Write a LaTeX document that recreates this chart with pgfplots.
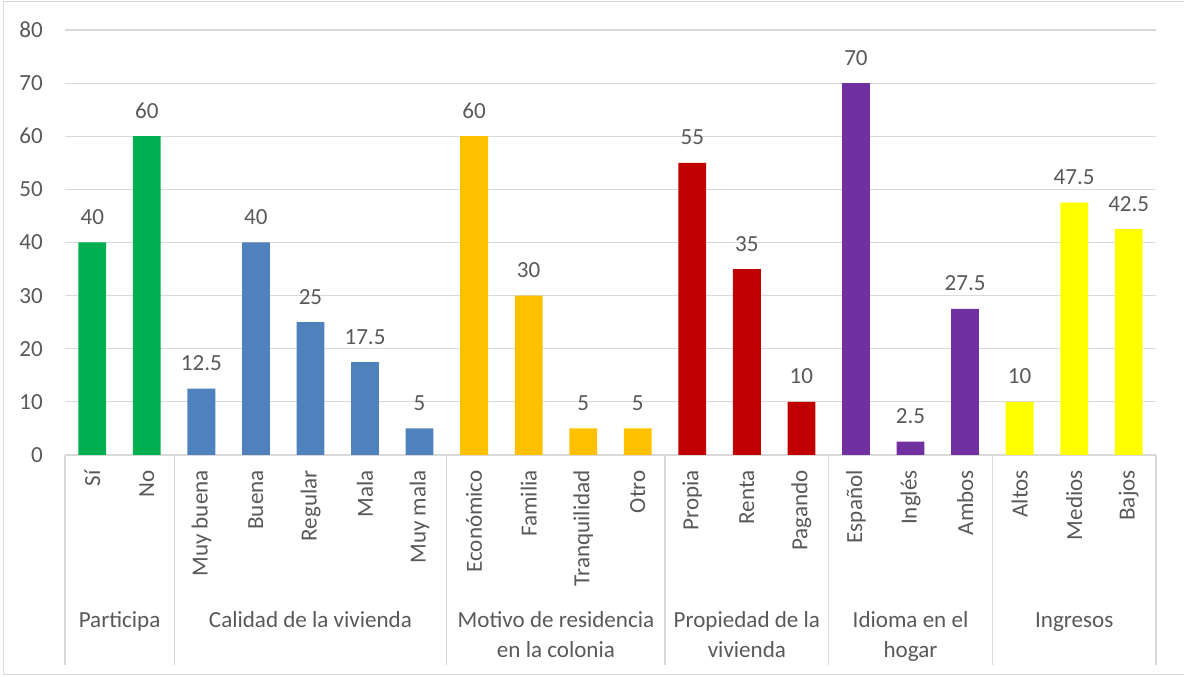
\documentclass[border=0pt]{standalone}
\usepackage{fontspec}
\setmainfont{Carlito}
\usepackage{pgfplots}
\pgfplotsset{compat=1.18}
\definecolor{txt}{HTML}{595959}
\definecolor{grd}{HTML}{D9D9D9}
\definecolor{cG}{HTML}{00B050}
\definecolor{cB}{HTML}{4F81BD}
\definecolor{cO}{HTML}{FFC000}
\definecolor{cR}{HTML}{C00000}
\definecolor{cP}{HTML}{7030A0}
\definecolor{cY}{HTML}{FFFF00}
\newcommand\cf{\fontsize{17.3}{20.8}\selectfont}
\begin{document}
\begin{tikzpicture}
\path[use as bounding box] (0pt,0pt) rectangle (888pt,507.75pt);
\draw[grd, line width=0.75pt] (895pt,506.6pt) -- (2.3pt,506.6pt) -- (2.3pt,1.5pt) -- (895pt,1.5pt);
\begin{axis}[
  at={(48.75pt,166.5pt)}, anchor=south west,
  scale only axis, width=818.25pt, height=318.75pt,
  xmin=-0.5, xmax=19.5, ymin=0, ymax=80,
  clip=false,
  /pgf/number format/assume math mode=true,
  ytick={0,10,...,80},
  xtick={0,...,19},
  xticklabels={Sí,No,Muy buena,Buena,Regular,Mala,Muy mala,Económico,Familia,Tranquilidad,Otro,Propia,Renta,Pagando,Español,Inglés,Ambos,Altos,Medios,Bajos},
  axis lines*=left,
  y axis line style={draw=none},
  x axis line style={grd, line width=0.9pt},
  major tick length=0pt,
  ymajorgrids,
  grid style={grd, line width=0.9pt},
  yticklabel style={font=\cf, text=txt, inner sep=0pt, anchor=east, xshift=-16.5pt},
  xticklabel style={font=\cf, text=txt, inner sep=0pt, rotate=90, anchor=east, xshift=-11.25pt},
  ybar, bar width=0.51,
  nodes near coords,
  every node near coord/.append style={font=\cf, text=txt, anchor=base, inner sep=0pt, yshift=13.5pt},
]
\addplot[fill=cG, draw=none, bar shift=0pt] coordinates {(0,40) (1,60)};
\addplot[fill=cB, draw=none, bar shift=0pt] coordinates {(2,12.5) (3,40) (4,25) (5,17.5) (6,5)};
\addplot[fill=cO, draw=none, bar shift=0pt] coordinates {(7,60) (8,30) (9,5) (10,5)};
\addplot[fill=cR, draw=none, bar shift=0pt] coordinates {(11,55) (12,35) (13,10)};
\addplot[fill=cP, draw=none, bar shift=0pt] coordinates {(14,70) (15,2.5) (16,27.5)};
\addplot[fill=cY, draw=none, bar shift=0pt] coordinates {(17,10) (18,47.5) (19,42.5)};
\draw[grd, line width=0.9pt] (axis cs:-0.5,0) -- ++(0pt,-157.5pt);
\draw[grd, line width=0.9pt] (axis cs:1.5,0) -- ++(0pt,-157.5pt);
\draw[grd, line width=0.9pt] (axis cs:6.5,0) -- ++(0pt,-157.5pt);
\draw[grd, line width=0.9pt] (axis cs:10.5,0) -- ++(0pt,-157.5pt);
\draw[grd, line width=0.9pt] (axis cs:13.5,0) -- ++(0pt,-157.5pt);
\draw[grd, line width=0.9pt] (axis cs:16.5,0) -- ++(0pt,-157.5pt);
\draw[grd, line width=0.9pt] (axis cs:19.5,0) -- ++(0pt,-157.5pt);
\node[font=\cf, text=txt, anchor=base, inner sep=0pt, yshift=-129.75pt] at (axis cs:0.5,0) {Participa};
\node[font=\cf, text=txt, anchor=base, inner sep=0pt, yshift=-129.75pt] at (axis cs:4,0) {Calidad de la vivienda};
\node[font=\cf, text=txt, anchor=base, inner sep=0pt, yshift=-129.75pt] at (axis cs:8.5,0) {Motivo de residencia};
\node[font=\cf, text=txt, anchor=base, inner sep=0pt, yshift=-151.5pt] at (axis cs:8.5,0) {en la colonia};
\node[font=\cf, text=txt, anchor=base, inner sep=0pt, yshift=-129.75pt] at (axis cs:12,0) {Propiedad de la};
\node[font=\cf, text=txt, anchor=base, inner sep=0pt, yshift=-151.5pt] at (axis cs:12,0) {vivienda};
\node[font=\cf, text=txt, anchor=base, inner sep=0pt, yshift=-129.75pt] at (axis cs:15,0) {Idioma en el};
\node[font=\cf, text=txt, anchor=base, inner sep=0pt, yshift=-151.5pt] at (axis cs:15,0) {hogar};
\node[font=\cf, text=txt, anchor=base, inner sep=0pt, yshift=-129.75pt] at (axis cs:18,0) {Ingresos};
\end{axis}
\end{tikzpicture}
\end{document}
